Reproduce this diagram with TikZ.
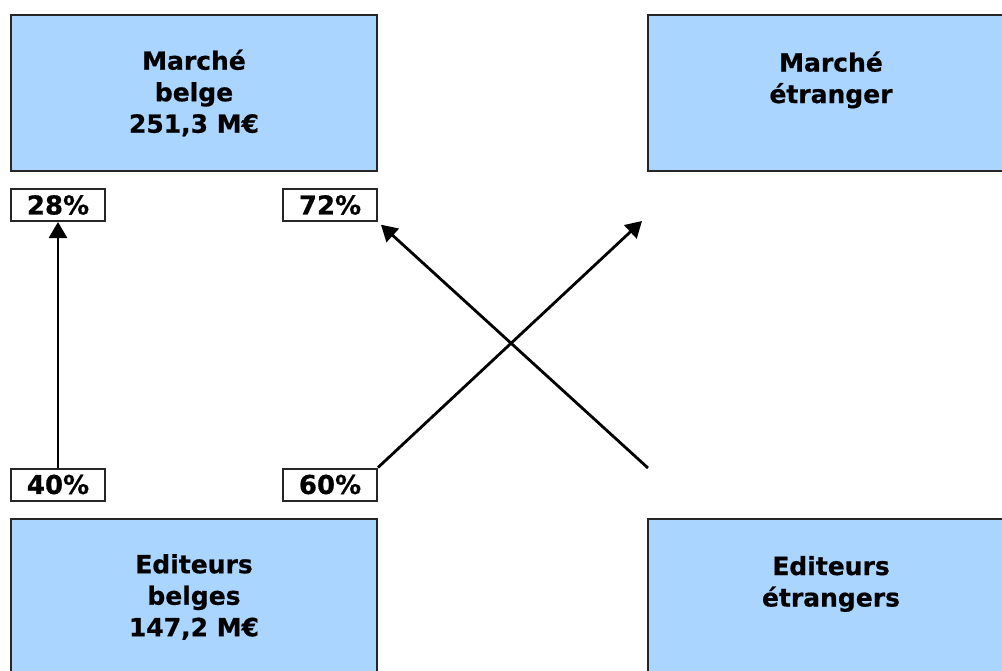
\documentclass[tikz,border=0pt]{standalone}
\usepackage{fontspec}
\setmainfont{DejaVu Sans}[BoldFeatures={FakeBold=0.6}]
\usetikzlibrary{arrows.meta}
\definecolor{boxblue}{RGB}{170,213,255}
\tikzset{
  market/.style={draw=black!85, line width=2pt, fill=boxblue, minimum width=366pt,
    minimum height=156pt, inner sep=0pt, align=center,
    font=\fontsize{25}{31.5}\selectfont\bfseries},
  share/.style={draw=black!85, line width=2pt, fill=white, minimum width=94pt,
    minimum height=32pt, inner sep=0pt, font=\fontsize{26}{31.5}\selectfont\bfseries},
  flow/.style={line width=2.8pt, -{Triangle[length=16pt,width=18pt]}}
}

\begin{document}
\begin{tikzpicture}[x=1pt,y=-1pt]
            \useasboundingbox (0,0) rectangle (1002,670);
            \node[market] (MB) at (194,93) {Marché\\belge\\251,3 M€};
            \node[market] (ME) at (831,93) {Marché\\étranger\\\mbox{}};
            \node[market] (EB) at (194,597) {Editeurs\\belges\\147,2 M€};
            \node[market] (EE) at (831,597) {Editeurs\\étrangers\\\mbox{}};
            \node[share] (P28) at (58,205) {28\%};
            \node[share] (P72) at (330,205) {72\%};
            \node[share] (P40) at (58,484.5) {40\%};
            \node[share] (P60) at (330,484.5) {60\%};
            \coordinate (toME) at (642,221);
            \coordinate (fromEE) at (648,468);
            \draw[flow] (P40) -- (P28);
            \draw[flow] (P60.north east) -- (toME);
            \draw[flow, shorten >=4pt] (fromEE) -- (P72.south east);
        \end{tikzpicture}
\end{document}
